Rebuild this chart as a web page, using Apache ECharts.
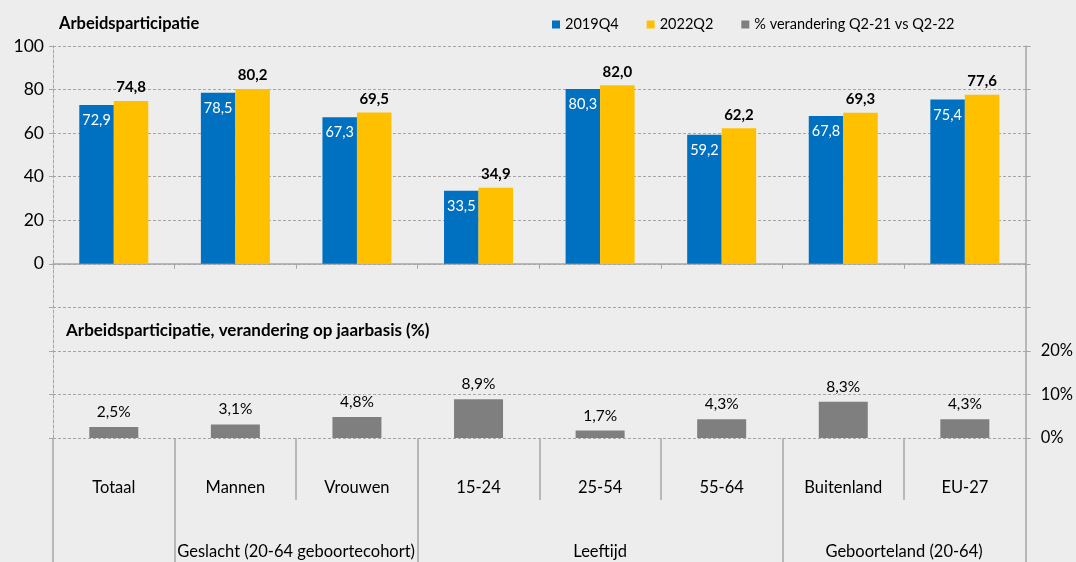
<!DOCTYPE html>
<html>
<head>
<meta charset="utf-8">
<script src="https://cdn.jsdelivr.net/npm/echarts@6/dist/echarts.min.js"></script>
<style>
html,body{margin:0;padding:0;background:#EDEDED;}
#chart{width:1076px;height:562px;}
</style>
</head>
<body>
<div id="chart"></div>
<script>
const categories = ['Totaal','Mannen','Vrouwen','15-24','25-54','55-64','Buitenland','EU-27'];
const values2019Q4 = [72.9, 78.5, 67.3, 33.5, 80.3, 59.2, 67.8, 75.4];
const values2022Q2 = [74.8, 80.2, 69.5, 34.9, 82.0, 62.2, 69.3, 77.6];
const valuesChange = [2.5, 3.1, 4.8, 8.9, 1.7, 4.3, 8.3, 4.3];
// group labels on a half-category point axis (17 points: 0, 0.5, ..., 8)
const groupPoints = ['', '', '', '', 'Geslacht (20-64 geboortecohort)', '', '', '', '', 'Leeftijd', '', '', '', '', 'Geboorteland (20-64)', '', ''];
const groupBoundaryIdx = [0, 2, 6, 12, 16];
const leftTicks = [-80, -60, -40, -20, 0, 20, 40, 60, 80, 100];
const rightTicks = [0, 10, 20];

const FONT = 'Lato';
const AX = '#a6a6a6';
const DASH = [3, 2];
const fmt = v => v.toFixed(1).replace('.', ',');

const chart = echarts.init(document.getElementById('chart'), null, {renderer: 'canvas'});
chart.setOption({
  backgroundColor: '#EDEDED',
  textStyle: {fontFamily: FONT, color: '#000'},
  animation: false,
  title: [
    {text: 'Arbeidsparticipatie', left: 54, top: 10,
     textStyle: {fontFamily: FONT, fontSize: 16.5, fontWeight: 'bold', color: '#000'}},
    {text: 'Arbeidsparticipatie, verandering op jaarbasis (%)', left: 61, top: 317,
     textStyle: {fontFamily: FONT, fontSize: 17, fontWeight: 'bold', color: '#000'}}
  ],
  legend: {
    left: 547, top: 12, icon: 'rect', itemWidth: 8, itemHeight: 8, itemGap: 28,
    textStyle: {fontFamily: FONT, fontSize: 14.5, color: '#000'},
    data: ['2019Q4', '2022Q2', '% verandering Q2-21 vs Q2-22']
  },
  grid: {left: 53, right: 48, top: 46, bottom: 124, containLabel: false},
  xAxis: [
    {type: 'category', data: categories, position: 'bottom',
     axisLine: {show: true, onZero: true, onZeroAxisIndex: 0, lineStyle: {color: AX, width: 1.5}},
     axisTick: {show: true, interval: 0, length: 5, lineStyle: {color: AX}},
     axisLabel: {show: false}, splitLine: {show: false}},
    {type: 'category', data: categories, position: 'bottom',
     axisLine: {show: false, onZero: false},
     axisTick: {show: true, interval: 0, length: 62, lineStyle: {color: AX, width: 1.5}},
     axisLabel: {show: true, interval: 0, margin: 41, fontSize: 16.5, color: '#000', fontFamily: FONT},
     splitLine: {show: false}},
    {type: 'category', data: groupPoints, position: 'bottom', boundaryGap: false,
     axisLine: {show: false, onZero: false},
     axisTick: {show: true, length: 124, lineStyle: {color: AX, width: 1.5},
       interval: (i) => groupBoundaryIdx.indexOf(i) >= 0},
     axisLabel: {show: true, interval: 0, margin: 105, fontSize: 16.5, color: '#000', fontFamily: FONT},
     splitLine: {show: false}}
  ],
  yAxis: [
    {type: 'value', min: leftTicks[0], max: leftTicks[leftTicks.length - 1], interval: 20, position: 'left',
     axisLine: {show: true, lineStyle: {color: AX, type: DASH}},
     axisTick: {show: true, length: 4, lineStyle: {color: AX}},
     axisLabel: {margin: 9, fontSize: 17.5, color: '#000', fontFamily: FONT,
       formatter: v => (v >= 0 ? String(v) : '')},
     splitLine: {show: true, lineStyle: {color: AX, type: DASH}}},
    {type: 'value', min: 0, max: 90, interval: 10, position: 'right',
     axisLine: {show: true, lineStyle: {color: AX, width: 1.5}},
     axisTick: {show: true, length: 5, lineStyle: {color: AX}},
     axisLabel: {margin: 15, fontSize: 16.5, color: '#000', fontFamily: FONT,
       formatter: v => (rightTicks.indexOf(v) >= 0 ? v + '%' : '')},
     splitLine: {show: false}}
  ],
  series: [
    {name: '2019Q4', type: 'bar', xAxisIndex: 0, yAxisIndex: 0, data: values2019Q4,
     barWidth: 34.5, barGap: '0%', itemStyle: {color: '#0070C0'},
     label: {show: true, position: 'insideTop', distance: 8, color: '#fff', fontSize: 14.5,
       fontFamily: FONT, formatter: p => fmt(p.value)}},
    {name: '2022Q2', type: 'bar', xAxisIndex: 0, yAxisIndex: 0, data: values2022Q2,
     barWidth: 34.5, barGap: '0%', itemStyle: {color: '#FFC000'},
     label: {show: true, position: 'top', distance: 6, color: '#000', fontSize: 15, fontWeight: 'bold',
       fontFamily: FONT, formatter: p => fmt(p.value)}},
    {name: '% verandering Q2-21 vs Q2-22', type: 'bar', xAxisIndex: 1, yAxisIndex: 1, data: valuesChange,
     barWidth: 49, itemStyle: {color: '#7F7F7F'},
     label: {show: true, position: 'top', distance: 7, color: '#000', fontSize: 15.5,
       fontFamily: FONT, formatter: p => fmt(p.value) + '%'}}
  ]
});
</script>
</body>
</html>
